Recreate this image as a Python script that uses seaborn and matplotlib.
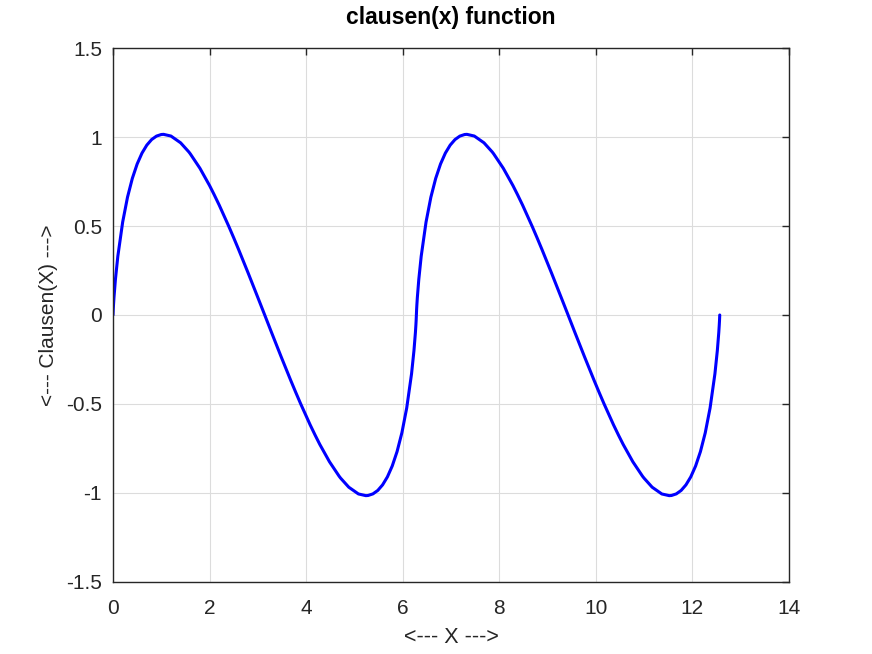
import pandas as pd
import matplotlib
matplotlib.use("Agg")
import matplotlib.pyplot as plt
import seaborn as sns

# Values (clausen function over 0..4*pi)
x_vals = [0, 0.005, 0.01, 0.02, 0.05, 0.1, 0.2, 0.3, 0.4, 0.5, 0.6, 0.7, 0.8, 0.9, 1.0, 1.047,
          1.2, 1.4, 1.571, 1.6, 1.8, 2.0, 2.094, 2.2, 2.4, 2.5, 2.6, 2.8, 3.0, 3.142,
          3.283, 3.483, 3.683, 3.783, 3.883, 4.083, 4.189, 4.283, 4.483, 4.683, 4.712, 4.883,
          5.083, 5.236, 5.283, 5.383, 5.483, 5.583, 5.683, 5.783, 5.883, 5.983, 6.083, 6.183,
          6.233, 6.263, 6.273, 6.278, 6.283,
          6.288, 6.293, 6.303, 6.333, 6.383, 6.483, 6.583, 6.683, 6.783, 6.883, 6.983, 7.083,
          7.183, 7.283, 7.330, 7.483, 7.683, 7.854, 7.883, 8.083, 8.283, 8.377, 8.483, 8.683,
          8.783, 8.883, 9.083, 9.283, 9.425,
          9.566, 9.766, 9.966, 10.066, 10.166, 10.366, 10.472, 10.566, 10.766, 10.966, 10.996,
          11.166, 11.366, 11.519, 11.566, 11.666, 11.766, 11.866, 11.966, 12.066, 12.166,
          12.266, 12.366, 12.466, 12.516, 12.546, 12.556, 12.561, 12.566]
y_vals = [0, 0.0315, 0.0561, 0.0982, 0.1998, 0.3303, 0.5220, 0.6616, 0.7674, 0.8483, 0.9095,
          0.9544, 0.9857, 1.0050, 1.0140, 1.0149, 1.0054, 0.9674, 0.9160, 0.9056, 0.8244,
          0.7271, 0.6766, 0.6171, 0.4968, 0.4336, 0.3688, 0.2351, 0.0980, 0,
          -0.0980, -0.2351, -0.3688, -0.4336, -0.4968, -0.6171, -0.6766, -0.7271, -0.8244,
          -0.9056, -0.9160, -0.9674, -1.0054, -1.0149, -1.0140, -1.0050, -0.9857, -0.9544,
          -0.9095, -0.8483, -0.7674, -0.6616, -0.5220, -0.3303, -0.1998, -0.0982, -0.0561,
          -0.0315, 0,
          0.0315, 0.0561, 0.0982, 0.1998, 0.3303, 0.5220, 0.6616, 0.7674, 0.8483, 0.9095,
          0.9544, 0.9857, 1.0050, 1.0140, 1.0149, 1.0054, 0.9674, 0.9160, 0.9056, 0.8244,
          0.7271, 0.6766, 0.6171, 0.4968, 0.4336, 0.3688, 0.2351, 0.0980, 0,
          -0.0980, -0.2351, -0.3688, -0.4336, -0.4968, -0.6171, -0.6766, -0.7271, -0.8244,
          -0.9056, -0.9160, -0.9674, -1.0054, -1.0149, -1.0140, -1.0050, -0.9857, -0.9544,
          -0.9095, -0.8483, -0.7674, -0.6616, -0.5220, -0.3303, -0.1998, -0.0982, -0.0561,
          -0.0315, 0]

x_ticks = [0, 2, 4, 6, 8, 10, 12, 14]
y_ticks = [-1.5, -1, -0.5, 0, 0.5, 1, 1.5]
y_tick_labels = ["-1.5", "-1", "-0.5", "0", "0.5", "1", "1.5"]

df = pd.DataFrame({"x": x_vals, "y": y_vals})

sns.set_style("white")
plt.rcParams["font.family"] = ["Liberation Sans", "DejaVu Sans"]

fig = plt.figure(figsize=(8.72, 6.54), dpi=100)
ax = fig.add_axes([0.1296, 0.1101, 0.7752, 0.8165])

sns.lineplot(data=df, x="x", y="y", color="#0000ff", linewidth=2.2, sort=False,
             estimator=None, ax=ax)

ax.set_xlim(0, 14)
ax.set_ylim(-1.5, 1.5)
ax.set_xticks(x_ticks)
ax.set_xticklabels([str(t) for t in x_ticks])
ax.set_yticks(y_ticks)
ax.set_yticklabels(y_tick_labels)
ax.grid(True, color="#dcdcdc", linewidth=0.8)
ax.set_axisbelow(True)
ax.tick_params(direction="in", length=5, width=1, top=True, right=True,
               labelsize=15, labelcolor="#262626", color="#262626")
ax.tick_params(axis="x", pad=12)
ax.tick_params(axis="y", pad=8)
for s in ax.spines.values():
    s.set_visible(True)
    s.set_color("#262626")
    s.set_linewidth(1)

ax.set_title("clausen(x) function", fontsize=16.5, fontweight="bold", pad=17, color="black")
ax.set_xlabel("<--- X --->", fontsize=15.5, color="#262626", labelpad=7)
ax.set_ylabel("<--- Clausen(X) --->", fontsize=15, color="#262626", labelpad=6)

plt.savefig("out.png", dpi=100)
